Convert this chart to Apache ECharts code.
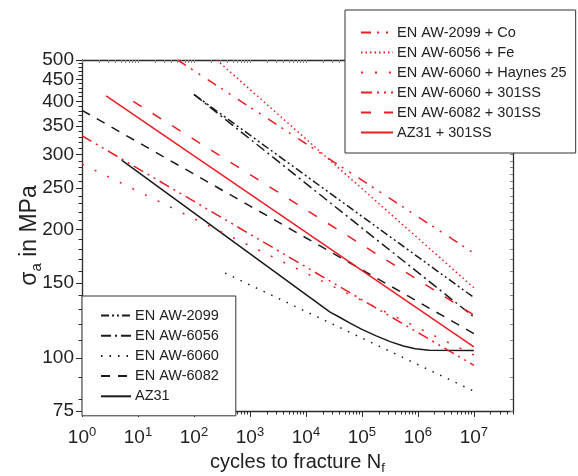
<!DOCTYPE html>
<html>
<head>
<meta charset="utf-8">
<script src="https://cdn.jsdelivr.net/npm/echarts@6/dist/echarts.min.js"></script>
<style>
  html, body { margin: 0; padding: 0; background: #fff; }
  #chart { width: 578px; height: 476px; }
</style>
</head>
<body>
<div id="chart"></div>
<script>
// S-N lines, [cycles to fracture, stress amplitude in MPa]
const aw2099 = [[100, 415], [1e7, 138.5]];
const aw6056 = [[100, 415], [1e7, 124.7]];
const aw6060 = [[360, 158], [1e7, 83.5]];
const aw6082 = [[1, 381], [1e7, 114]];
const az31 = [[5.1, 291], [2.7e4, 128], [4e4, 124.5], [6e4, 120.8], [1e5, 116.6], [1.8e5, 112.6], [3.2e5, 109.1], [5.5e5, 106.6], [9e5, 105], [1.6e6, 104.1], [1e7, 104]];
const aw2099Co = [[51, 500], [1e7, 176]];
const aw6056Fe = [[255, 500], [1e7, 146]];
const aw6060Haynes = [[1, 285], [1e7, 101.5]];
const aw6060Ss = [[1, 332], [1e7, 96]];
const aw6082Ss = [[8.2, 400], [1e7, 126]];
const az31Ss = [[2.7, 412], [1e7, 106]];

// axis ticks
const cycleTicks = [1, 10, 100, 1e3, 1e4, 1e5, 1e6, 1e7];
const stressTicks = [75, 100, 150, 200, 250, 300, 350, 400, 450, 500];

let cycleMinor = [];
for (let k = 0; k <= 7; k++) {
  for (let m = 2; m <= 9; m++) {
    if (m * Math.pow(10, k) <= 5e7) cycleMinor.push(m * Math.pow(10, k));
  }
}
let stressMinor = [];
for (let s = 80; s < 500; s += 10) {
  if (stressTicks.indexOf(s) < 0) stressMinor.push(s);
}

const font = 'Liberation Sans';
const red = '#ec1c24';
const black = '#1a1a1a';
const axisColor = '#2a2a2a';

function line(name, data, color, dash) {
  return {
    name: name,
    type: 'line',
    data: data,
    symbol: 'none',
    lineStyle: { color: color, width: 1.5, type: dash },
    itemStyle: { color: color },
    xAxisIndex: 0,
    yAxisIndex: 0
  };
}

let myChart = echarts.init(document.getElementById('chart'));

let option = {
  animation: false,
  backgroundColor: '#fff',
  grid: { left: 82, right: 65, top: 60, bottom: 65, containLabel: false, outerBoundsMode: 'none' },
  xAxis: [
    {
      type: 'log', logBase: 10, min: 1, max: 5e7, position: 'bottom',
      name: '{s|cycles to fracture N}{sub|f}',
      nameLocation: 'middle', nameGap: 37,
      nameTextStyle: {
        rich: {
          s: { fontFamily: font, fontSize: 20, color: '#222', lineHeight: 26 },
          sub: { fontFamily: font, fontSize: 13, color: '#222', lineHeight: 13, verticalAlign: 'bottom' }
        }
      },
      axisLine: { onZero: false, lineStyle: { color: axisColor, width: 1.3 } },
      axisTick: { customValues: cycleTicks, length: 6, lineStyle: { color: axisColor } },
      axisLabel: {
        customValues: cycleTicks, margin: 15,
        formatter: function (v) {
          return '{b|10}{e|' + Math.round(Math.log10(v)) + '}';
        },
        rich: {
          b: { fontFamily: font, fontSize: 19, color: '#222', lineHeight: 24 },
          e: { fontFamily: font, fontSize: 13, color: '#222', lineHeight: 13, verticalAlign: 'top' }
        }
      },
      splitLine: { show: false }
    },
    {
      type: 'log', logBase: 10, min: 1, max: 5e7, position: 'bottom',
      axisLine: { show: false, onZero: false },
      axisTick: { customValues: cycleMinor, length: 3.5, lineStyle: { color: axisColor } },
      axisLabel: { show: false },
      splitLine: { show: false }
    },
    {
      type: 'log', logBase: 10, min: 1, max: 5e7, position: 'top',
      axisLine: { onZero: false, lineStyle: { color: axisColor, width: 1.3 } },
      axisTick: { customValues: cycleTicks.concat(cycleMinor), inside: true, length: 3, lineStyle: { color: '#888' } },
      axisLabel: { show: false },
      splitLine: { show: false }
    }
  ],
  yAxis: [
    {
      type: 'log', logBase: 10, min: 75, max: 500, position: 'left',
      name: '{s|σ}{sub|a}{s| in MPa}',
      nameLocation: 'middle', nameGap: 38, nameRotate: 90, nameMoveOverlap: false,
      nameTextStyle: {
        rich: {
          s: { fontFamily: font, fontSize: 23, color: '#222', lineHeight: 28 },
          sub: { fontFamily: font, fontSize: 15, color: '#222', lineHeight: 15, verticalAlign: 'bottom' }
        }
      },
      axisLine: { onZero: false, lineStyle: { color: axisColor, width: 1.3 } },
      axisTick: { customValues: stressTicks, length: 6, lineStyle: { color: axisColor } },
      axisLabel: {
        customValues: stressTicks, margin: 8,
        fontFamily: font, fontSize: 19, color: '#222'
      },
      splitLine: { show: false }
    },
    {
      type: 'log', logBase: 10, min: 75, max: 500, position: 'left',
      axisLine: { show: false, onZero: false },
      axisTick: { customValues: stressMinor, length: 3.5, lineStyle: { color: axisColor } },
      axisLabel: { show: false },
      splitLine: { show: false }
    },
    {
      type: 'log', logBase: 10, min: 75, max: 500, position: 'right',
      axisLine: { onZero: false, lineStyle: { color: axisColor, width: 1.3 } },
      axisTick: { customValues: stressTicks.concat(stressMinor), inside: true, length: 3, lineStyle: { color: '#888' } },
      axisLabel: { show: false },
      splitLine: { show: false }
    }
  ],
  legend: [
    {
      data: ['EN AW-2099 + Co', 'EN AW-6056 + Fe', 'EN AW-6060 + Haynes 25', 'EN AW-6060 + 301SS', 'EN AW-6082 + 301SS', 'AZ31 + 301SS'],
      orient: 'vertical', left: 345, top: 10, z: 10,
      itemWidth: 32, itemHeight: 14, itemGap: 5,
      padding: [15, 9, 13, 15],
      backgroundColor: '#fff', borderColor: '#333', borderWidth: 1, borderRadius: 0,
      itemStyle: { opacity: 0 },
      textStyle: { fontFamily: font, fontSize: 14.5, color: '#222', padding: [0, 0, 0, -1] },
      selectedMode: false
    },
    {
      data: ['EN AW-2099', 'EN AW-6056', 'EN AW-6060', 'EN AW-6082', 'AZ31'],
      orient: 'vertical', left: 82, top: 296, z: 10,
      itemWidth: 30, itemHeight: 14, itemGap: 5.2,
      padding: [12, 17, 12, 18],
      backgroundColor: '#fff', borderColor: '#333', borderWidth: 1, borderRadius: 0,
      itemStyle: { opacity: 0 },
      textStyle: { fontFamily: font, fontSize: 14.5, color: '#222', padding: [0, 0, 0, -1] },
      selectedMode: false
    }
  ],
  series: [
    line('EN AW-2099', aw2099, black, [8, 3, 2, 3, 2, 3]),
    line('EN AW-6056', aw6056, black, [10, 4, 2, 4]),
    line('EN AW-6060', aw6060, black, [1.5, 7]),
    line('EN AW-6082', aw6082, black, [9, 8]),
    line('AZ31', az31, black, 'solid'),
    line('EN AW-2099 + Co', aw2099Co, red, [10, 6, 2, 7, 2, 9]),
    line('EN AW-6056 + Fe', aw6056Fe, red, [1.5, 3]),
    line('EN AW-6060 + Haynes 25', aw6060Haynes, red, [2, 12]),
    line('EN AW-6060 + 301SS', aw6060Ss, red, [11, 5, 2, 5, 2, 5]),
    line('EN AW-6082 + 301SS', aw6082Ss, red, [10, 13]),
    line('AZ31 + 301SS', az31Ss, red, 'solid')
  ]
};

myChart.setOption(option);
</script>
</body>
</html>
